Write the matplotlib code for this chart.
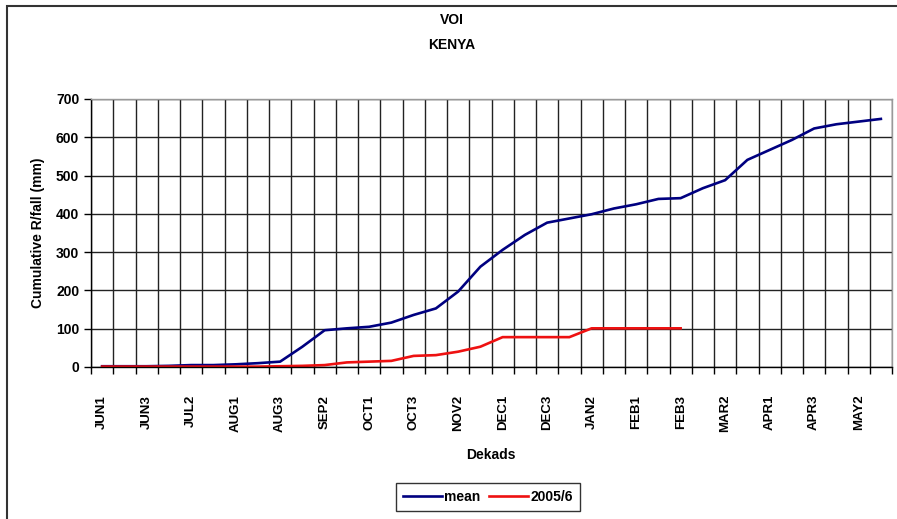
import matplotlib
matplotlib.use('Agg')
import matplotlib.pyplot as plt
from matplotlib.patches import Rectangle
from matplotlib.ticker import FixedLocator
import numpy as np


# dekads from JUN1 to MAY3
dekads = ['JUN1', 'JUN2', 'JUN3', 'JUL1', 'JUL2', 'JUL3', 'AUG1', 'AUG2', 'AUG3',
          'SEP1', 'SEP2', 'SEP3', 'OCT1', 'OCT2', 'OCT3', 'NOV1', 'NOV2', 'NOV3',
          'DEC1', 'DEC2', 'DEC3', 'JAN1', 'JAN2', 'JAN3', 'FEB1', 'FEB2', 'FEB3',
          'MAR1', 'MAR2', 'MAR3', 'APR1', 'APR2', 'APR3', 'MAY1', 'MAY2', 'MAY3']

# cumulative rainfall (mm)
mean = [2, 2, 2, 3, 5, 5, 7, 10, 14, 53, 96, 101, 105, 116, 136, 153, 197, 262,
        306, 345, 377, 388, 399, 414, 425, 439, 441, 467, 488, 541, 567, 593,
        623, 634, 641, 648]
season_2005 = [1, 1, 1, 1, 1, 1, 1, 1, 2, 3, 5, 12, 14, 16, 29, 31, 40, 53,
               78, 78, 78, 78, 101, 101, 101, 101, 101]

yticks = [0, 100, 200, 300, 400, 500, 600, 700]


def main():
    font = 'Liberation Sans'
    W, H = 897, 519
    fig = plt.figure(figsize=(W / 100, H / 100), dpi=100)
    ax = fig.add_axes([91 / W, 1 - 367 / H, (892 - 91) / W, 268 / H])

    x = np.arange(len(dekads))
    ax.plot(x, mean, color='#000080', lw=1.9, label='mean')
    ax.plot(x[:len(season_2005)], season_2005, color='#ee1111', lw=1.9, label='2005/6')

    ax.set_xlim(-0.5, len(dekads) - 0.5)
    ax.set_ylim(0, 700)

    # labels every second dekad, ticks and grid on the boundaries
    ax.xaxis.set_major_locator(FixedLocator(x[::2]))
    ax.set_xticklabels(dekads[::2], rotation=90, fontfamily=font,
                       fontweight='bold', fontsize=9.5, va='top')
    ax.xaxis.set_minor_locator(FixedLocator(np.arange(-0.5, len(dekads), 1.0)))
    ax.tick_params(axis='x', which='major', length=0, pad=20)
    ax.tick_params(axis='x', which='minor', length=5, width=1, color='black')
    ax.grid(True, axis='x', which='minor', color='#222222', lw=1)

    ax.set_yticks(yticks)
    ax.set_yticklabels([str(v) for v in yticks], fontfamily=font,
                       fontweight='bold', fontsize=10)
    ax.tick_params(axis='y', length=5, width=1, pad=3.5)
    ax.grid(True, axis='y', which='major', color='#222222', lw=1)
    ax.set_axisbelow(True)

    for side in ['left', 'bottom']:
        ax.spines[side].set_color('black')
        ax.spines[side].set_linewidth(1)
    for side in ['top', 'right']:
        ax.spines[side].set_color('#999999')
        ax.spines[side].set_linewidth(1)

    # titles and axis labels
    fig.text(452 / W, 1 - 20 / H, 'VOI', ha='center', va='center',
             fontfamily=font, fontweight='bold', fontsize=10)
    fig.text(452 / W, 1 - 45 / H, 'KENYA', ha='center', va='center',
             fontfamily=font, fontweight='bold', fontsize=10)
    fig.text(491 / W, 1 - 455 / H, 'Dekads', ha='center', va='center',
             fontfamily=font, fontweight='bold', fontsize=10)
    fig.text(38 / W, 1 - 233 / H, 'Cumulative R/fall (mm)', ha='center',
             va='center', rotation=90, fontfamily=font, fontweight='bold',
             fontsize=10)

    leg = fig.legend(loc='center', bbox_to_anchor=(488 / W, 1 - 497 / H), ncol=2,
                     frameon=True, fancybox=False, handlelength=2.8,
                     handletextpad=0.2, columnspacing=0.6, borderpad=0.5,
                     prop={'family': font, 'weight': 'bold', 'size': 10})
    leg.get_frame().set_edgecolor('black')
    leg.get_frame().set_linewidth(1)

    # chart border, only left and top are inside the picture
    fig.add_artist(Rectangle((7 / W, -0.1), 1.0, 1.1 - 6 / H, transform=fig.transFigure,
                             fill=False, edgecolor='#333333', lw=1.5))

    fig.savefig('out.png', dpi=100)


if __name__ == '__main__':
    main()
